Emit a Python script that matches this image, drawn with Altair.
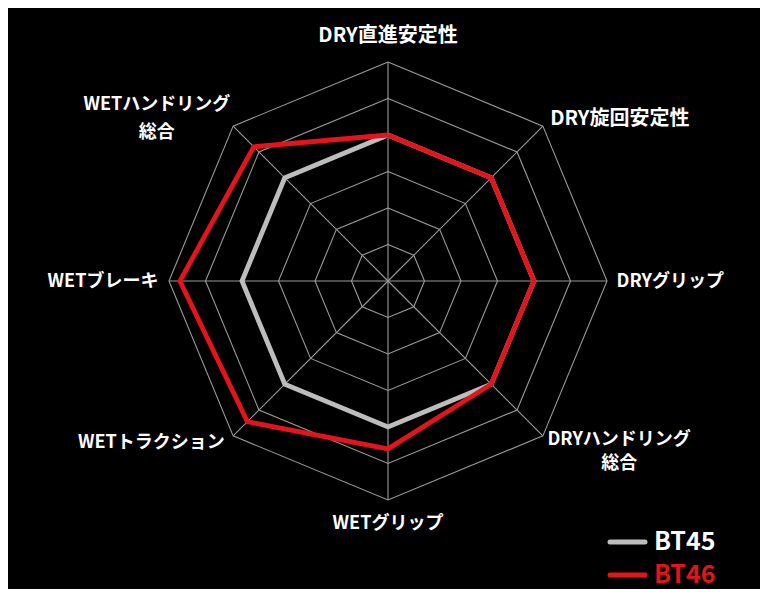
import altair as alt
import pandas as pd

# ---- data ----
categories = [
    "DRY直進安定性",
    "DRY旋回安定性",
    "DRYグリップ",
    "DRYハンドリング\n総合",
    "WETグリップ",
    "WETトラクション",
    "WETブレーキ",
    "WETハンドリング\n総合",
]
bt45 = [4, 4, 4, 4, 4, 4, 4, 4]
bt46 = [4, 4, 4, 4, 4.6, 5.45, 5.7, 5.2]
series_names = ["BT45", "BT46"]
grid_levels = [1, 2, 3, 4, 5, 6]

# ---- styles ----
series_colors = ["#bdbdbd", "#e3141b"]
legend_text_colors = ["#ffffff", "#e3141b"]
grid_color = "#9a9a9a"
FONT = "Noto Sans CJK JP"

n = len(categories)
series_values = [bt45, bt46]

series_rows = []
for name, vals in zip(series_names, series_values):
    for i in range(n + 1):
        series_rows.append({"series": name, "idx": i, "value": vals[i % n]})
series_df = pd.DataFrame(series_rows)

grid_df = pd.DataFrame([{"level": l, "idx": i} for l in grid_levels for i in range(n + 1)])
axes_df = pd.DataFrame({"idx": list(range(n)), "label": categories, "value": [max(grid_levels)] * n})

ANG = "(PI/2 - datum.idx*PI/4)"

xsc = alt.Scale(domain=[-6, 6], range=[161, 599], nice=False, zero=False)
ysc = alt.Scale(domain=[-6, 6], range=[492, 54], nice=False, zero=False)


def X(f):
    return alt.X(f, type="quantitative", scale=xsc, axis=None)


def Y(f):
    return alt.Y(f, type="quantitative", scale=ysc, axis=None)


# grid rings
rings = (
    alt.Chart(grid_df)
    .transform_calculate(x=f"datum.level*cos{ANG}", y=f"datum.level*sin{ANG}")
    .mark_line(color=grid_color, strokeWidth=1.1)
    .encode(x=X("x"), y=Y("y"), detail="level:N", order="idx:Q")
)

# spokes
spokes = (
    alt.Chart(axes_df)
    .transform_calculate(
        x0="0", y0="0",
        xe=f"datum.value*cos{ANG}", ye=f"datum.value*sin{ANG}",
    )
    .mark_rule(color=grid_color, strokeWidth=1.1)
    .encode(x=X("x0"), y=Y("y0"), x2="xe:Q", y2="ye:Q")
)

layers = [rings, spokes]

# series lines
for name, col in zip(series_names, series_colors):
    layers.append(
        alt.Chart(series_df)
        .transform_filter(alt.datum.series == name)
        .transform_calculate(x=f"datum.value*cos{ANG}", y=f"datum.value*sin{ANG}")
        .mark_line(color=col, strokeWidth=4.8, strokeJoin="miter")
        .encode(x=X("x"), y=Y("y"), order="idx:Q")
    )

# axis labels: (align, dx, dy, lineHeight, fontSize)
label_styles = [
    ("center", 0, -11, 22, 20),
    ("left", -3, 3, 22, 20),
    ("left", -5, 1, 22, 18),
    ("center", 66, -6, 24, 18),
    ("center", 0, 9.5, 22, 18),
    ("right", 2, -3.5, 22, 18),
    ("right", 4, 1, 22, 18),
    ("center", -66, -11, 28, 18),
]
LR = 6.4
for i, (al, dx, dy, lh, fs) in enumerate(label_styles):
    layers.append(
        alt.Chart(axes_df)
        .transform_filter(alt.datum.idx == i)
        .transform_calculate(x=f"{LR}*cos{ANG}", y=f"{LR}*sin{ANG}")
        .mark_text(
            align=al, baseline="middle", dx=dx, dy=dy, lineBreak="\n", lineHeight=lh,
            font=FONT, fontWeight="bold", fontSize=fs, color="#ffffff",
        )
        .encode(x=X("x"), y=Y("y"), text="label:N")
    )

# legend
legend_df = pd.DataFrame({"series": series_names})
legend_y = [534, 567]
for name, lc, tc, ly in zip(series_names, series_colors, legend_text_colors, legend_y):
    base = alt.Chart(legend_df).transform_filter(alt.datum.series == name)
    layers.append(
        base.mark_rule(color=lc, strokeWidth=5, strokeCap="round")
        .encode(x=alt.value(602), x2=alt.value(637), y=alt.value(ly))
    )
    layers.append(
        base.mark_text(align="left", baseline="middle", font=FONT, fontWeight="bold",
                       fontSize=25, color=tc)
        .encode(x=alt.value(646), y=alt.value(ly), text="series:N")
    )

chart = (
    alt.layer(*layers)
    .properties(
        width=752, height=581, padding=0, background="#000000",
        autosize=alt.AutoSizeParams(type="none"),
    )
    .configure_view(stroke=None)
)

chart.save("out.html", embed_options={"renderer": "svg", "actions": False})
